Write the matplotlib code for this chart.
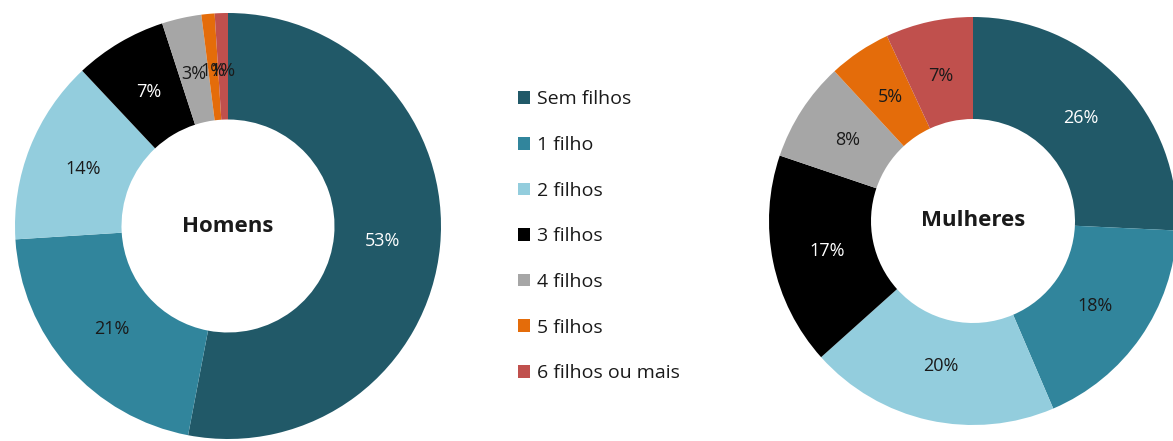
import matplotlib.pyplot as plt
from matplotlib.patches import Patch

categorias = ['Sem filhos', '1 filho', '2 filhos', '3 filhos', '4 filhos', '5 filhos', '6 filhos ou mais']
homens = [53, 21, 14, 7, 3, 1, 1]
mulheres = [26, 18, 20, 17, 8, 5, 7]
cores = ['#215968', '#31859C', '#93CDDD', '#000000', '#A6A6A6', '#E46C0A', '#C0504D']
cor_texto = ['white', '#1a1a1a', '#1a1a1a', 'white', '#1a1a1a', '#1a1a1a', '#1a1a1a']

plt.rcParams['font.family'] = ['Open Sans', 'DejaVu Sans']

W, H = 1173, 441
fig = plt.figure(figsize=(W / 100, H / 100), dpi=100)


def donut(cx, cy, r, valores, titulo):
    ax = fig.add_axes([(cx - r) / W, (H - cy - r) / H, 2 * r / W, 2 * r / H])
    wedges, textos = ax.pie(valores, colors=cores, startangle=90, counterclock=False,
                            radius=1, wedgeprops=dict(width=0.5, linewidth=0),
                            labels=[f'{v}%' for v in valores], labeldistance=0.73)
    for t, c in zip(textos, cor_texto):
        t.set_color(c)
        t.set_fontsize(13)
        t.set_ha('center')
        t.set_va('center')
    ax.text(0, 0, titulo, ha='center', va='center', fontsize=16, fontweight='bold', color='#1a1a1a')
    ax.set_xlim(-1, 1)
    ax.set_ylim(-1, 1)
    ax.set_aspect('equal')
    ax.axis('off')
    return wedges


donut(228, 226, 213, homens, 'Homens')
donut(973, 221, 204, mulheres, 'Mulheres')

handles = [Patch(facecolor=c, edgecolor='none') for c in cores]
fig.legend(handles, categorias, loc='upper left', bbox_to_anchor=(500 / W, 1 - 73 / H),
           frameon=False, fontsize=14, labelspacing=1.42, handlelength=0.62,
           handleheight=0.62, handletextpad=0.36, labelcolor='#1a1a1a')

fig.savefig('out.png', dpi=100)
